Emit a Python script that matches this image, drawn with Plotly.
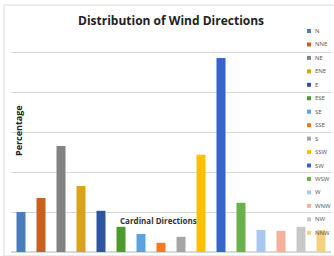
import plotly.graph_objects as go

directions = ["N", "NNE", "NE", "ENE", "E", "ESE", "SE", "SSE", "S", "SSW",
              "SW", "WSW", "W", "WNW", "NW", "NNW"]
percentages = [1.0, 1.35, 2.65, 1.65, 1.03, 0.63, 0.45, 0.23, 0.38, 2.43,
               4.85, 1.23, 0.55, 0.53, 0.63, 0.55]
colors = ["#4A7EBB", "#C8601E", "#828282", "#D9A21A", "#2F55A0", "#4E9A2E",
          "#5BA3E0", "#F47920", "#A5A5A5", "#FFC000", "#3665C8", "#6AB04C",
          "#A8C8EE", "#F4B09A", "#C8C8C8", "#F5D080"]

# plot area in pixels: x 11..331, y 12..252
L, R, T, B = 11, 331, 12, 252
def px(x):
    return (x - L) / (R - L)
def py(y):
    return (B - y) / (B - T)

fig = go.Figure()
for d, v, c in zip(directions, percentages, colors):
    fig.add_trace(go.Bar(x=[d], y=[v], name=d, marker_color=c, width=0.45,
                         marker_line_width=0, showlegend=False,
                         hoverinfo="skip"))

fig.update_layout(
    width=334, height=256,
    margin=dict(l=L, r=334 - R, t=T, b=256 - B),
    paper_bgcolor="white", plot_bgcolor="white",
    barmode="overlay",
    showlegend=False,
    xaxis=dict(type="category", categoryorder="array", categoryarray=directions,
               showticklabels=False, showgrid=False, zeroline=False,
               showline=False, ticks="", range=[-0.5, 15.5], automargin=False),
    yaxis=dict(range=[0, 6], dtick=1, showticklabels=False, showgrid=True,
               gridcolor="#D9D9D9", gridwidth=1, zeroline=True,
               zerolinecolor="#D9D9D9", showline=False, ticks="", automargin=False),
    font=dict(family="Open Sans"),
)

shapes = [dict(type="rect", xref="paper", yref="paper",
               x0=px(4), x1=px(340), y0=py(256), y1=py(5),
               line=dict(color="#D9D9D9", width=1), layer="below")]
annotations = [
    dict(text="<b>Distribution of Wind Directions</b>", x=px(171), y=py(20),
         xref="paper", yref="paper", showarrow=False,
         xanchor="center", yanchor="middle",
         font=dict(size=12, color="#222222")),
    dict(text="<b>Percentage</b>", x=px(18), y=py(131), xref="paper",
         yref="paper", showarrow=False, textangle=-90,
         xanchor="center", yanchor="middle",
         font=dict(size=9, color="#222222")),
    dict(text="<b>Cardinal Directions</b>", x=px(158), y=py(220),
         xref="paper", yref="paper", showarrow=False,
         xanchor="center", yanchor="middle",
         font=dict(size=8, color="#333333")),
]
for i, (d, c) in enumerate(zip(directions, colors)):
    yc = 31 + 13.45 * i
    shapes.append(dict(type="rect", xref="paper", yref="paper",
                       x0=px(307), x1=px(311), y0=py(yc + 2), y1=py(yc - 2),
                       fillcolor=c, line=dict(width=0)))
    annotations.append(dict(text=d, x=px(313), y=py(yc), xref="paper",
                            yref="paper", xanchor="left", yanchor="middle",
                            showarrow=False,
                            font=dict(size=6, color="#555555")))
fig.update_layout(shapes=shapes, annotations=annotations)

fig.write_html("out.html", config={"displayModeBar": False},
               post_script="document.body.style.margin='0';document.body.style.padding='0';document.documentElement.style.overflow='hidden';")
